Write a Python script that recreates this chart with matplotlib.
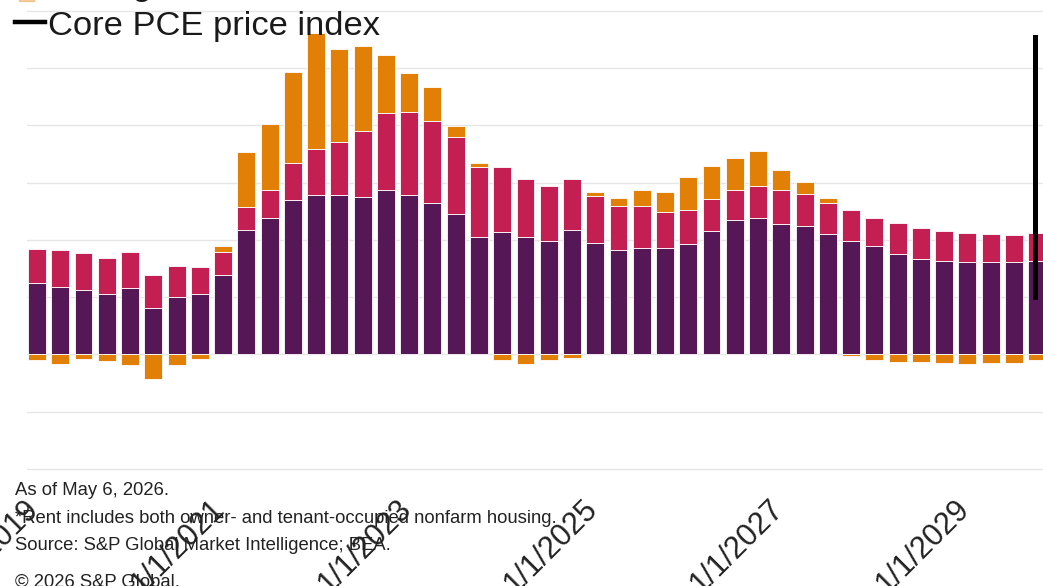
import numpy as np
import pandas as pd
import matplotlib.pyplot as plt
from matplotlib.lines import Line2D
from matplotlib.patches import Rectangle
from matplotlib.transforms import ScaledTranslation

plt.rcParams['font.family'] = ['Liberation Sans', 'DejaVu Sans']

# Quarterly contributions to core PCE inflation (pp), 2019Q1 - 2029Q4
quarters = pd.period_range('2019Q1', '2029Q4', freq='Q')

services_ex_housing = [1.24, 1.18, 1.13, 1.06, 1.16, 0.82, 1.00, 1.06, 1.39, 2.17, 2.39,
                       2.70, 2.78, 2.78, 2.75, 2.88, 2.78, 2.64, 2.45, 2.05, 2.14, 2.05,
                       1.98, 2.18, 1.94, 1.82, 1.86, 1.86, 1.93, 2.16, 2.34, 2.38, 2.28,
                       2.24, 2.11, 1.99, 1.89, 1.76, 1.67, 1.63, 1.62, 1.62, 1.62, 1.63]
housing = [0.61, 0.64, 0.64, 0.62, 0.63, 0.57, 0.54, 0.47, 0.40, 0.40, 0.49,
           0.64, 0.81, 0.93, 1.15, 1.33, 1.46, 1.44, 1.35, 1.23, 1.14, 1.01,
           0.97, 0.89, 0.83, 0.77, 0.73, 0.63, 0.60, 0.55, 0.53, 0.57, 0.59,
           0.57, 0.54, 0.54, 0.50, 0.53, 0.54, 0.52, 0.50, 0.49, 0.47, 0.49]
goods = [-0.10, -0.17, -0.08, -0.11, -0.18, -0.42, -0.18, -0.07, 0.11, 0.97, 1.14,
         1.60, 2.03, 1.62, 1.49, 1.02, 0.67, 0.59, 0.19, 0.06, -0.10, -0.17,
         -0.09, -0.06, 0.06, 0.15, 0.28, 0.35, 0.57, 0.58, 0.56, 0.61, 0.36,
         0.20, 0.09, -0.03, -0.10, -0.13, -0.13, -0.14, -0.17, -0.14, -0.14, -0.10]

# core PCE line (only the last segment shows up in the crop)
core_pce_idx = [43, 43]
core_pce = [5.54, 1.00]

purple = '#561756'
crimson = '#c41f52'
orange = '#e27f06'

x = np.arange(len(quarters))
svc = np.array(services_ex_housing)
hous = np.array(housing)
gd = np.array(goods)
goods_bottom = np.where(gd > 0, svc + hous, 0)

fig = plt.figure(figsize=(10.43, 5.86), dpi=100)
ax = fig.add_axes([27 / 1043, 1 - 471.9 / 586, 1 - 27 / 1043, 471.9 / 586])

w = 0.77
ax.bar(x, svc, width=w, color=purple, edgecolor='white', linewidth=0.6, zorder=2)
ax.bar(x, hous, width=w, bottom=svc, color=crimson, edgecolor='white', linewidth=0.6, zorder=2)
ax.bar(x, gd, width=w, bottom=goods_bottom, color=orange, edgecolor='white', linewidth=0.6, zorder=2)
ax.plot(np.array(core_pce_idx) - 0.08, core_pce, color='black', linewidth=3.6, zorder=3)

ax.set_xlim(-0.43, 43.25)
ax.set_ylim(-2.05, 6.19)
ax.set_yticks(np.arange(-2, 7, 1))
ax.yaxis.grid(True, color='#e6e6e6', linewidth=1)
ax.set_axisbelow(True)
ax.tick_params(axis='y', left=False, labelleft=False)

tick_pos = [i for i, q in enumerate(quarters) if q.quarter == 1 and q.year % 2 == 1]
tick_lab = [f'1/1/{quarters[i].year}' for i in tick_pos]
ax.set_xticks(tick_pos)
ax.set_xticklabels(tick_lab, rotation=45, ha='right', va='top', fontsize=22, color='#222222')
ax.tick_params(axis='x', length=0, pad=16)
shift = ScaledTranslation(0.08, 0, fig.dpi_scale_trans)
for lab in ax.get_xticklabels():
    lab.set_transform(lab.get_transform() + shift)

for s in ax.spines.values():
    s.set_visible(False)

# legend (cropped at the top of the image)
fig.add_artist(Rectangle((19 / 1043, 1 - 0.6 / 586), 15 / 1043, 20 / 586,
                         color=orange, alpha=0.35, transform=fig.transFigure))
fig.text(48 / 1043, 1 + 5 / 586, 'Core goods', fontsize=24.8,
         color='#1a1a1a', va='baseline')
fig.add_artist(Line2D([15 / 1043, 45 / 1043], [1 - 22 / 586, 1 - 22 / 586],
                      color='black', linewidth=3.2, transform=fig.transFigure))
fig.text(48 / 1043, 1 - 35 / 586, 'Core PCE price index', fontsize=24.8,
         color='#1a1a1a', va='baseline')

# footnotes
notes = ['As of May 6, 2026.',
         '*Rent includes both owner- and tenant-occupied nonfarm housing.',
         'Source: S&P Global Market Intelligence; BEA.',
         '\u00a9 2026 S&P Global.']
baselines = [495, 523, 550, 587]
for txt, b in zip(notes, baselines):
    fig.text(15 / 1043, 1 - b / 586, txt, fontsize=13.3, color='#222222', va='baseline')

fig.savefig('out.png', dpi=100)
